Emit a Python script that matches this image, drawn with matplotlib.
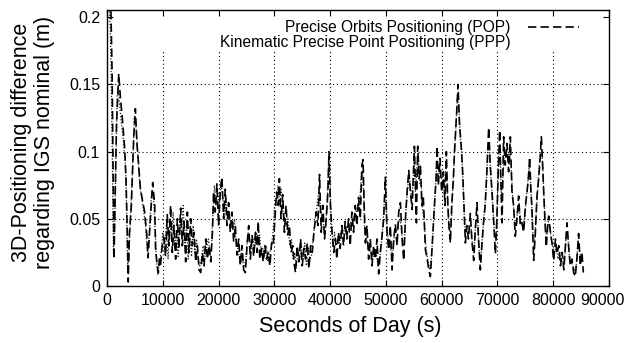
import matplotlib
matplotlib.use("Agg")
import matplotlib.pyplot as plt
import matplotlib.transforms as mtransforms
import numpy as np

plt.rcParams["font.family"] = ["Liberation Sans", "DejaVu Sans"]

# Precise Orbits Positioning (POP): seconds of day / 3D difference (m)
pop_sec = [0, 400, 700, 900, 1250, 1700, 2100, 2400, 2700, 3150,
           3400, 3600, 3800, 4000, 4360, 4780, 5080, 5380, 5670, 5970,
           6390, 6750, 7170, 7350, 7770, 8190, 8550, 8700, 9000, 9200,
           9400, 9600, 9900, 10200, 10500, 10800, 11100, 11400, 11700, 12000,
           12300, 12600, 12900, 13200, 13500, 13800, 14100, 14400, 14700, 15000,
           15300, 15600, 15900, 16200, 16500, 16800, 17100, 17400, 17700, 18000,
           18300, 18600, 18900, 19100, 19400, 19700, 20000, 20300, 20600, 20900,
           21200, 21500, 21800, 22100, 22400, 22700, 23000, 23300, 23600, 23900,
           24200, 24500, 24800, 25100, 25400, 25700, 26000, 26300, 26600, 26900,
           27100, 27400, 27700, 28000, 28300, 28600, 28900, 29200, 29500, 29800,
           30100, 30400, 30700, 30900, 31200, 31500, 31800, 32100, 32400, 32700,
           33000, 33300, 33600, 33800, 34100, 34400, 34700, 35000, 35300, 35600,
           35900, 36200, 36500, 36800, 37100, 37500, 37800, 38100, 38400, 38700,
           39000, 39300, 39600, 39800, 40050, 40350, 40650, 40950, 41200, 41500,
           41800, 42100, 42400, 42700, 43000, 43300, 43600, 43900, 44200, 44500,
           44800, 45100, 45400, 45700, 45900, 46100, 46330, 46600, 46900, 47200,
           47500, 47800, 48100, 48400, 48700, 49000, 49300, 49600, 49900, 50200,
           50500, 50800, 51100, 51400, 51700, 52000, 52300, 52600, 52900, 53200,
           53500, 53800, 54100, 54400, 54700, 55000, 55110, 55470, 55700, 55950,
           56200, 56450, 56700, 56900, 57080, 57400, 57700, 57970, 58300, 58700,
           59000, 59170, 59400, 59700, 60000, 60300, 60600, 60840, 61100, 61300,
           61560, 61800, 62100, 62300, 62450, 62700, 62930, 63200, 63470, 63700,
           64000, 64250, 64500, 64800, 65140, 65400, 65740, 66000, 66340, 66600,
           66930, 67200, 67500, 67800, 68100, 68430, 68700, 69030, 69300, 69630,
           69900, 70100, 70400, 70600, 70820, 71110, 71400, 71710, 72000, 72310,
           72600, 72900, 73200, 73500, 73800, 74100, 74400, 74700, 75000, 75300,
           75550, 75770, 76000, 76170, 76490, 76800, 77090, 77400, 77650, 77870,
           78100, 78250, 78500, 78760, 79000, 79200, 79500, 79780, 80080, 80400,
           80670, 81000, 81300, 81600, 81900, 82200, 82470, 82750, 83050, 83350,
           83660, 83950, 84250, 84550, 84850, 85150, 85400]
pop_m = [0.215, 0.212, 0.205, 0.16, 0.02, 0.12, 0.158, 0.14, 0.127, 0.103,
         0.08, 0.045, 0.003, 0.038, 0.06, 0.11, 0.132, 0.105, 0.09, 0.073,
         0.063, 0.055, 0.036, 0.021, 0.05, 0.077, 0.06, 0.028, 0.015, 0.01,
         0.02, 0.016, 0.03, 0.036, 0.022, 0.053, 0.03, 0.06, 0.025, 0.045,
         0.02, 0.05, 0.028, 0.058, 0.03, 0.048, 0.018, 0.055, 0.025, 0.05,
         0.03, 0.04, 0.018, 0.03, 0.012, 0.01, 0.025, 0.015, 0.035, 0.02,
         0.03, 0.018, 0.04, 0.07, 0.055, 0.076, 0.045, 0.07, 0.081, 0.05,
         0.072, 0.045, 0.062, 0.04, 0.055, 0.033, 0.045, 0.023, 0.035, 0.015,
         0.03, 0.012, 0.01, 0.03, 0.045, 0.02, 0.038, 0.022, 0.04, 0.025,
         0.048, 0.02, 0.028, 0.018, 0.03, 0.02, 0.025, 0.015, 0.032, 0.03,
         0.05, 0.07, 0.06, 0.08, 0.05, 0.068, 0.04, 0.06, 0.038, 0.045,
         0.025, 0.03, 0.015, 0.01, 0.03, 0.018, 0.035, 0.015, 0.028, 0.02,
         0.032, 0.013, 0.03, 0.025, 0.04, 0.055, 0.045, 0.083, 0.04, 0.06,
         0.035, 0.05, 0.07, 0.1, 0.06, 0.04, 0.025, 0.035, 0.02, 0.04,
         0.028, 0.045, 0.03, 0.048, 0.035, 0.05, 0.03, 0.055, 0.04, 0.06,
         0.045, 0.066, 0.05, 0.09, 0.094, 0.06, 0.032, 0.045, 0.02, 0.035,
         0.015, 0.03, 0.02, 0.035, 0.009, 0.025, 0.037, 0.05, 0.081, 0.04,
         0.027, 0.045, 0.012, 0.035, 0.046, 0.03, 0.055, 0.062, 0.035, 0.019,
         0.05, 0.07, 0.086, 0.07, 0.057, 0.09, 0.104, 0.047, 0.104, 0.08,
         0.089, 0.06, 0.067, 0.045, 0.027, 0.02, 0.012, 0.007, 0.03, 0.06,
         0.08, 0.104, 0.075, 0.095, 0.07, 0.085, 0.06, 0.1, 0.06, 0.045,
         0.032, 0.06, 0.08, 0.1, 0.111, 0.13, 0.15, 0.12, 0.106, 0.09,
         0.06, 0.032, 0.045, 0.035, 0.054, 0.035, 0.019, 0.04, 0.062, 0.035,
         0.012, 0.03, 0.047, 0.06, 0.085, 0.118, 0.09, 0.07, 0.05, 0.024,
         0.05, 0.08, 0.116, 0.08, 0.047, 0.111, 0.09, 0.106, 0.085, 0.111,
         0.07, 0.06, 0.037, 0.05, 0.067, 0.045, 0.047, 0.04, 0.059, 0.07,
         0.08, 0.096, 0.07, 0.059, 0.019, 0.04, 0.067, 0.08, 0.095, 0.111,
         0.09, 0.074, 0.05, 0.029, 0.045, 0.052, 0.04, 0.032, 0.019, 0.035,
         0.024, 0.03, 0.015, 0.025, 0.012, 0.03, 0.047, 0.03, 0.015, 0.02,
         0.01, 0.007, 0.02, 0.039, 0.015, 0.025, 0.01]

# Kinematic Precise Point Positioning (PPP)
ppp_sec = [0, 300, 600, 800, 1000, 1150, 1400, 1800, 2000, 2250,
           2600, 2900, 3300, 3500, 3700, 3900, 4200, 4600, 4900, 5200,
           5500, 5800, 6100, 6500, 6900, 7250, 7600, 8000, 8350, 8650,
           8850, 9100, 9350, 9700, 10000, 10350, 10650, 10950, 11250, 11550,
           11850, 12150, 12450, 12750, 13050, 13350, 13650, 13950, 14250, 14550,
           14850, 15150, 15450, 15750, 16050, 16350, 16650, 16950, 17250, 17550,
           17850, 18150, 18450, 18750, 19000, 19250, 19550, 19850, 20150, 20450,
           20750, 21050, 21350, 21650, 21950, 22250, 22550, 22850, 23150, 23450,
           23750, 24050, 24350, 24650, 24950, 25250, 25550, 25850, 26150, 26450,
           26750, 27050, 27350, 27650, 27950, 28250, 28550, 28850, 29150, 29450,
           29750, 30050, 30350, 30650, 30950, 31250, 31550, 31850, 32150, 32450,
           32750, 33050, 33350, 33650, 33950, 34250, 34550, 34850, 35150, 35450,
           35750, 36050, 36350, 36650, 36950, 37250, 37650, 37950, 38250, 38550,
           38850, 39150, 39450, 39700, 39950, 40200, 40500, 40800, 41100, 41350,
           41650, 41950, 42250, 42550, 42850, 43150, 43450, 43750, 44050, 44350,
           44650, 44950, 45250, 45550, 45800, 46000, 46200, 46450, 46750, 47050,
           47350, 47650, 47950, 48250, 48550, 48850, 49150, 49450, 49750, 50050,
           50350, 50650, 50950, 51250, 51550, 51850, 52150, 52450, 52750, 53050,
           53350, 53650, 53950, 54250, 54550, 54850, 55050, 55300, 55600, 55850,
           56100, 56350, 56600, 56850, 57150, 57550, 57850, 58150, 58500, 58850,
           59100, 59300, 59550, 59850, 60150, 60450, 60700, 60950, 61200, 61450,
           61700, 61950, 62200, 62550, 62800, 63050, 63350, 63600, 63850, 64100,
           64350, 64650, 64950, 65250, 65550, 65850, 66150, 66450, 66750, 67050,
           67350, 67650, 67950, 68250, 68550, 68850, 69150, 69450, 69750, 70000,
           70250, 70500, 70700, 70950, 71250, 71550, 71850, 72150, 72450, 72750,
           73050, 73350, 73650, 73950, 74250, 74550, 74850, 75150, 75400, 75650,
           75900, 76100, 76350, 76650, 76950, 77250, 77500, 77750, 78000, 78200,
           78400, 78650, 78900, 79100, 79350, 79650, 79950, 80250, 80550, 80850,
           81150, 81450, 81750, 82050, 82350, 82600, 82900, 83200, 83500, 83800,
           84100, 84400, 84700, 85000, 85300]
ppp_m = [0.21, 0.215, 0.19, 0.14, 0.08, 0.025, 0.05, 0.14, 0.15, 0.135,
         0.12, 0.11, 0.09, 0.06, 0.015, 0.02, 0.05, 0.09, 0.125, 0.118,
         0.1, 0.08, 0.068, 0.058, 0.045, 0.025, 0.04, 0.07, 0.065, 0.04,
         0.02, 0.008, 0.018, 0.025, 0.04, 0.028, 0.045, 0.02, 0.05, 0.035,
         0.055, 0.028, 0.042, 0.022, 0.05, 0.04, 0.06, 0.03, 0.045, 0.02,
         0.04, 0.022, 0.045, 0.025, 0.035, 0.02, 0.015, 0.02, 0.03, 0.022,
         0.028, 0.035, 0.025, 0.03, 0.055, 0.075, 0.06, 0.07, 0.06, 0.078,
         0.065, 0.055, 0.065, 0.05, 0.052, 0.045, 0.042, 0.05, 0.03, 0.028,
         0.02, 0.025, 0.018, 0.014, 0.022, 0.04, 0.035, 0.028, 0.035, 0.028,
         0.04, 0.03, 0.038, 0.025, 0.028, 0.022, 0.03, 0.018, 0.025, 0.028,
         0.04, 0.06, 0.065, 0.075, 0.06, 0.072, 0.055, 0.05, 0.045, 0.05,
         0.03, 0.035, 0.02, 0.025, 0.015, 0.025, 0.02, 0.03, 0.02, 0.032,
         0.015, 0.028, 0.02, 0.022, 0.035, 0.048, 0.06, 0.07, 0.06, 0.05,
         0.045, 0.04, 0.06, 0.09, 0.08, 0.05, 0.03, 0.04, 0.03, 0.035,
         0.032, 0.04, 0.038, 0.042, 0.04, 0.045, 0.04, 0.048, 0.05, 0.052,
         0.055, 0.06, 0.058, 0.08, 0.085, 0.07, 0.04, 0.038, 0.03, 0.028,
         0.025, 0.02, 0.028, 0.025, 0.015, 0.02, 0.03, 0.045, 0.065, 0.06,
         0.035, 0.035, 0.025, 0.025, 0.04, 0.04, 0.045, 0.05, 0.045, 0.03,
         0.035, 0.06, 0.075, 0.08, 0.065, 0.075, 0.095, 0.07, 0.09, 0.095,
         0.075, 0.075, 0.055, 0.05, 0.03, 0.018, 0.012, 0.02, 0.045, 0.07,
         0.09, 0.09, 0.085, 0.08, 0.08, 0.07, 0.085, 0.08, 0.05, 0.04,
         0.045, 0.07, 0.09, 0.12, 0.14, 0.135, 0.11, 0.1, 0.075, 0.045,
         0.04, 0.042, 0.045, 0.045, 0.028, 0.03, 0.05, 0.048, 0.025, 0.02,
         0.04, 0.055, 0.07, 0.1, 0.105, 0.08, 0.06, 0.04, 0.035, 0.065,
         0.1, 0.1, 0.065, 0.08, 0.1, 0.098, 0.095, 0.1, 0.09, 0.065,
         0.05, 0.045, 0.058, 0.055, 0.05, 0.042, 0.05, 0.065, 0.075, 0.088,
         0.08, 0.065, 0.04, 0.03, 0.055, 0.075, 0.09, 0.1, 0.1, 0.08,
         0.06, 0.04, 0.038, 0.048, 0.045, 0.035, 0.028, 0.025, 0.03, 0.02,
         0.025, 0.02, 0.018, 0.022, 0.04, 0.038, 0.022, 0.018, 0.015, 0.012,
         0.015, 0.03, 0.028, 0.02, 0.018]

x_ticks = [0, 10000, 20000, 30000, 40000, 50000, 60000, 70000, 80000, 90000]
y_ticks = [0, 0.05, 0.1, 0.15, 0.2]
y_ticklabels = ["0", "0.05", "0.1", "0.15", "0.2"]

fig = plt.figure(figsize=(6.27, 3.43), dpi=100)
ax = fig.add_axes([0.1707, 0.1662, 0.8006, 0.8046])

# grid (gnuplot style, vertical lines stop below the key)
for xt in x_ticks[1:-1]:
    ax.axvline(xt, ymax=0.85, color="black", lw=0.8, ls=(0, (1, 2.5)), zorder=1)
for yt in y_ticks[1:-1]:
    ax.axhline(yt, color="black", lw=0.8, ls=(0, (1, 2.5)), zorder=1)

l_pop, = ax.plot(pop_sec, pop_m, color="black", lw=1.2, ls=(0, (5, 2.5)),
                 label="Precise Orbits Positioning (POP)", zorder=3)
l_ppp, = ax.plot(ppp_sec, ppp_m, color="#222222", lw=0.9, ls=(0, (1, 1.5)),
                 label="Kinematic Precise Point Positioning (PPP)", zorder=2)

ax.set_xlim(0, 90000)
ax.set_ylim(0, 0.2054)
ax.set_xticks(x_ticks)
ax.set_xticklabels([str(v) for v in x_ticks])
ax.set_yticks(y_ticks)
ax.set_yticklabels(y_ticklabels)
ax.tick_params(direction="in", top=True, right=True, length=4, width=0.8,
               labelsize=11.5, pad=5)
for sp in ax.spines.values():
    sp.set_linewidth(1.0)

# last x label pulled inside the picture, as in the original
last = ax.get_xticklabels()[-1]
last.set_transform(last.get_transform() +
                   mtransforms.ScaledTranslation(-0.07, 0, fig.dpi_scale_trans))

ax.set_xlabel("Seconds of Day (s)", fontsize=15.5)
ax.xaxis.set_label_coords(0.484, -0.11)
ax.set_ylabel("3D-Positioning difference\nregarding IGS nominal (m)", fontsize=15.5,
              linespacing=1.1)
ax.yaxis.set_label_coords(-0.104, 0.52)

ppp_handle = plt.Line2D([], [], color="white", lw=0)
leg = ax.legend([l_pop, ppp_handle],
                ["Precise Orbits Positioning (POP)",
                 "Kinematic Precise Point Positioning (PPP)"],
                loc="upper right", bbox_to_anchor=(0.953, 0.985),
                markerfirst=False, frameon=False, fontsize=11.2,
                handlelength=3.3, handletextpad=1.1, labelspacing=0.0,
                borderpad=0.4, borderaxespad=0)

fig.savefig("out.png", dpi=100)
